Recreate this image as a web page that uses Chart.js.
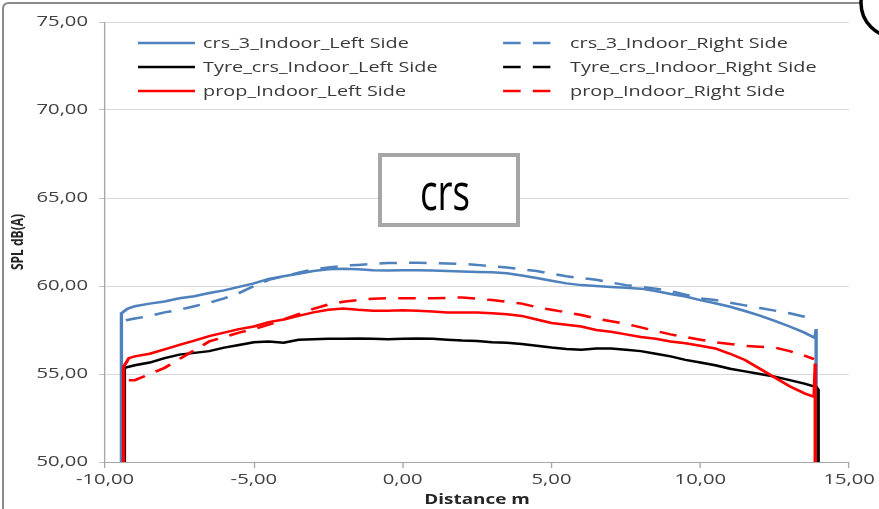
<!DOCTYPE html>
<html>
<head>
<meta charset="utf-8">
<script src="https://cdn.jsdelivr.net/npm/chart.js@4/dist/chart.umd.min.js"></script>
<style>
  html, body { margin: 0; padding: 0; background: #fff; overflow: hidden; }
  #plot { display: block; }
</style>
</head>
<body>
<canvas id="plot" width="651" height="509" style="width:879px;height:509px"></canvas>
<script>
// Pass-by noise levels along the measuring track, left and right microphones.
const distance = [-9.0, -8.5, -8.0, -7.5, -7.0, -6.5, -6.0, -5.5, -5.0, -4.5, -4.0, -3.5, -3.0, -2.5, -2.0, -1.5, -1.0, -0.5,
  0.0, 0.5, 1.0, 1.5, 2.0, 2.5, 3.0, 3.5, 4.0, 4.5, 5.0, 5.5, 6.0, 6.5, 7.0, 7.5, 8.0, 8.5, 9.0, 9.5,
  10.0, 10.5, 11.0, 11.5, 12.0, 12.5, 13.0, 13.5];

const crs3Left = [58.85, 59.0, 59.12, 59.3, 59.42, 59.6, 59.75, 59.95, 60.15, 60.4, 60.55, 60.7, 60.85, 60.95, 60.98, 60.95, 60.9, 60.88,
  60.9, 60.9, 60.88, 60.85, 60.82, 60.8, 60.78, 60.72, 60.6, 60.45, 60.3, 60.15, 60.05, 60.0, 59.95, 59.9, 59.85, 59.72, 59.55, 59.4,
  59.2, 59.02, 58.82, 58.58, 58.32, 58.02, 57.7, 57.35];
const crs3Right = [58.15, 58.3, 58.5, 58.65, 58.85, 59.05, 59.3, 59.6, 60.0, 60.35, 60.55, 60.75, 60.95, 61.05, 61.15, 61.2, 61.25, 61.3,
  61.32, 61.32, 61.3, 61.28, 61.25, 61.2, 61.12, 61.05, 60.95, 60.85, 60.7, 60.55, 60.45, 60.35, 60.2, 60.05, 59.95, 59.85, 59.7, 59.5,
  59.3, 59.2, 59.05, 58.9, 58.75, 58.6, 58.45, 58.25];
const tyreLeft = [55.5, 55.65, 55.9, 56.1, 56.2, 56.3, 56.5, 56.65, 56.8, 56.85, 56.78, 56.95, 56.97, 57.0, 57.0, 57.02, 57.0, 56.98,
  57.0, 57.02, 57.0, 56.95, 56.9, 56.88, 56.8, 56.78, 56.7, 56.6, 56.5, 56.42, 56.38, 56.45, 56.45, 56.38, 56.3, 56.15, 56.0, 55.8,
  55.65, 55.5, 55.3, 55.15, 55.0, 54.85, 54.65, 54.45];
const tyreRight = [];
const propLeft = [56.0, 56.15, 56.4, 56.65, 56.9, 57.15, 57.35, 57.55, 57.7, 57.95, 58.1, 58.3, 58.5, 58.65, 58.72, 58.65, 58.6, 58.6,
  58.62, 58.6, 58.55, 58.5, 58.5, 58.5, 58.45, 58.4, 58.3, 58.1, 57.9, 57.8, 57.7, 57.5, 57.4, 57.25, 57.1, 57.0, 56.85, 56.75,
  56.6, 56.45, 56.15, 55.8, 55.3, 54.8, 54.3, 53.9];
const propRight = [54.65, 55.0, 55.35, 55.85, 56.35, 56.85, 57.1, 57.35, 57.55, 57.8, 58.1, 58.4, 58.7, 58.95, 59.1, 59.2, 59.28, 59.3,
  59.3, 59.3, 59.3, 59.32, 59.35, 59.28, 59.2, 59.1, 59.0, 58.8, 58.65, 58.5, 58.35, 58.15, 58.0, 57.85, 57.65, 57.45, 57.25, 57.1,
  56.95, 56.8, 56.7, 56.6, 56.55, 56.5, 56.3, 56.05];

// Samples at the start and end of each run [distance m, dB(A)]
const crs3LeftStart = [[-9.45, 50], [-9.45, 58.45], [-9.25, 58.7]];
const crs3LeftEnd = [[13.85, 57.05], [13.89, 57.55], [13.89, 50]];
const crs3RightStart = [[-9.3, 58.05]];
const crs3RightEnd = [[13.85, 58.1]];
const tyreLeftStart = [[-9.35, 50], [-9.35, 55.35]];
const tyreLeftEnd = [[13.9, 54.25], [13.96, 54.1], [13.96, 50]];
const propLeftStart = [[-9.38, 50], [-9.38, 55.4], [-9.2, 55.9]];
const propLeftEnd = [[13.82, 53.7], [13.86, 55.6], [13.86, 50]];
const propRightStart = [[-9.2, 54.65]];
const propRightEnd = [[13.82, 55.85]];

const xTicks = [-10, -5, 0, 5, 10, 15];
const yTicks = [50, 55, 60, 65, 70, 75];

function run(start, levels, end) {
  if (!levels.length) return [];
  const pts = start.map(([x, y]) => ({x, y}));
  distance.forEach((x, i) => pts.push({x, y: levels[i]}));
  end.forEach(([x, y]) => pts.push({x, y}));
  return pts;
}

const BLUE = '#4F81BD', BLACK = '#000000', RED = '#FF0000';
const DASH = [13, 9];
const WIDE = 879 / 651;   // the canvas is drawn at 651 units and widened to 879 px
const comma = v => Number(v).toFixed(2).replace('.', ',');

Chart.defaults.font.family = "'Open Sans', 'DejaVu Sans', sans-serif";

const widen = {
  id: 'widen',
  beforeDraw(chart) {
    const c = chart.canvas;
    if (c.width !== 879) c.width = 879;
    chart.ctx.setTransform(WIDE, 0, 0, 1, 0, 0);
  }
};

const legendBox = {
  id: 'legendBox',
  afterDraw(chart) {
    const ctx = chart.ctx;
    const lineX = [102.2, 372.6], textX = [150.4, 422.2], rowY = [43, 67, 91];
    ctx.save();
    ctx.font = "14.7px 'Open Sans', 'DejaVu Sans', sans-serif";
    ctx.textBaseline = 'middle';
    ctx.fillStyle = '#3a3a3a';
    chart.data.datasets.forEach((ds, i) => {
      const col = i % 2, row = Math.floor(i / 2);
      const y = rowY[row];
      ctx.beginPath();
      ctx.setLineDash(ds.borderDash || []);
      ctx.strokeStyle = ds.borderColor;
      ctx.lineWidth = ds.borderWidth;
      ctx.moveTo(lineX[col], y);
      ctx.lineTo(lineX[col] + 42.2, y);
      ctx.stroke();
      ctx.setLineDash([]);
      ctx.fillText(ds.label, textX[col], y + 0.5);
    });
    ctx.restore();

    // page frame, label box and the edge of the neighbouring ring, in screen pixels
    ctx.save();
    ctx.setTransform(1, 0, 0, 1, 0, 0);
    ctx.strokeStyle = '#8c8c8c';
    ctx.lineWidth = 2;
    ctx.beginPath();
    ctx.moveTo(3, 509);
    ctx.lineTo(3, 9);
    ctx.quadraticCurveTo(3, 3, 9, 3);
    ctx.lineTo(861, 3);
    ctx.stroke();

    ctx.strokeStyle = '#000';
    ctx.lineWidth = 3.5;
    ctx.beginPath();
    ctx.arc(895, 3, 34, Math.PI * 0.5, Math.PI * 1.2);
    ctx.stroke();

    ctx.fillStyle = '#fff';
    ctx.fillRect(380, 155, 138, 70);
    ctx.strokeStyle = '#A6A6A6';
    ctx.lineWidth = 4;
    ctx.strokeRect(380, 155, 138, 70);
    ctx.font = "52px 'Open Sans', 'DejaVu Sans', sans-serif";
    const w = ctx.measureText('crs').width;
    ctx.translate(445, 210);
    ctx.scale(50 / w, 1);
    ctx.fillStyle = '#000';
    ctx.textAlign = 'center';
    ctx.textBaseline = 'alphabetic';
    ctx.fillText('crs', 0, 0);
    ctx.restore();
  }
};

const lineSet = (label, data, color, dashed, order) => ({
  label, data, borderColor: color, backgroundColor: color,
  borderWidth: 2.5, borderDash: dashed ? DASH : [], pointRadius: 0,
  tension: 0, fill: false, order
});

new Chart(document.getElementById('plot'), {
  type: 'line',
  data: {
    datasets: [
      lineSet('crs_3_Indoor_Left Side', run(crs3LeftStart, crs3Left, crs3LeftEnd), BLUE, false, 6),
      lineSet('crs_3_Indoor_Right Side', run(crs3RightStart, crs3Right, crs3RightEnd), BLUE, true, 5),
      lineSet('Tyre_crs_Indoor_Left Side', run(tyreLeftStart, tyreLeft, tyreLeftEnd), BLACK, false, 4),
      lineSet('Tyre_crs_Indoor_Right Side', run([], tyreRight, []), BLACK, true, 3),
      lineSet('prop_Indoor_Left Side', run(propLeftStart, propLeft, propLeftEnd), RED, false, 2),
      lineSet('prop_Indoor_Right Side', run(propRightStart, propRight, propRightEnd), RED, true, 1)
    ]
  },
  options: {
    responsive: false,
    devicePixelRatio: 1,
    animation: false,
    events: [],
    layout: { padding: { top: 22, right: 19.9, left: 0, bottom: 0 } },
    plugins: { legend: { display: false }, tooltip: { enabled: false } },
    scales: {
      x: {
        type: 'linear',
        min: xTicks[0], max: xTicks[xTicks.length - 1],
        afterBuildTicks: s => { s.ticks = xTicks.map(v => ({value: v})); },
        afterFit: s => { s.height = 47; },
        grid: { drawOnChartArea: false, drawTicks: true, tickLength: 6, tickColor: '#A6A6A6' },
        border: { color: '#A6A6A6', width: 1 },
        ticks: { padding: 3, color: '#404040', font: { size: 15 }, maxRotation: 0, callback: v => comma(v) },
        title: { display: true, text: 'Distance m', color: '#262626', font: { size: 14, weight: 'bold' }, padding: { top: 0, bottom: 0.6 } }
      },
      y: {
        min: yTicks[0], max: yTicks[yTicks.length - 1],
        afterBuildTicks: s => { s.ticks = yTicks.map(v => ({value: v})); },
        afterFit: s => { s.width = 77.8; },
        grid: { color: '#D9D9D9', lineWidth: 1, drawTicks: true, tickLength: 4.4, tickColor: '#BFBFBF' },
        border: { color: '#A6A6A6', width: 1 },
        ticks: { padding: 8.2, color: '#404040', font: { size: 15 }, callback: v => comma(v) },
        title: { display: true, text: 'SPL dB(A)', color: '#262626', font: { size: 12, weight: 'bold' }, padding: { top: 6.1, bottom: 0 } }
      }
    }
  },
  plugins: [widen, legendBox]
});
</script>
</body>
</html>
